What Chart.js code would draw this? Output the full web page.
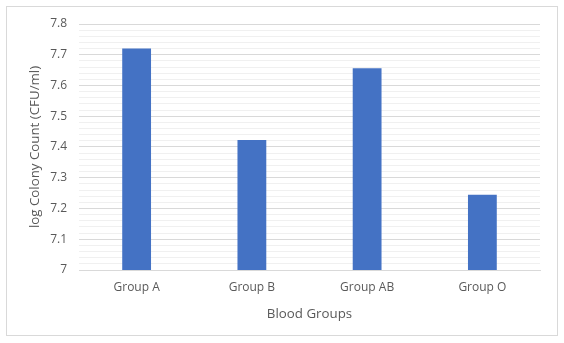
<!DOCTYPE html>
<html>
<head>
<meta charset="utf-8">
<script src="https://cdn.jsdelivr.net/npm/chart.js@4.4.0/dist/chart.umd.min.js"></script>
<style>
  html, body { margin: 0; padding: 0; background: #fff; }
  #wrap { width: 564px; height: 343px; }
</style>
</head>
<body>
<div id="wrap"><canvas id="bloodChart" width="564" height="343"></canvas></div>
<script>
// log colony counts per blood group
const groups = ['Group A', 'Group B', 'Group AB', 'Group O'];
const logCounts = [7.72, 7.423, 7.656, 7.245];
const yMin = 7, yMax = 7.8, minorStep = 0.02;

// thin grey frame around the whole chart
const frame = {
    id: 'frame',
    beforeDraw(chart) {
        const ctx = chart.ctx;
        ctx.save();
        ctx.strokeStyle = '#d9d9d9';
        ctx.lineWidth = 1;
        ctx.strokeRect(6.5, 6.5, 551, 329);
        ctx.restore();
    }
};

const isMajor = v => Math.round(v * 100) % 10 === 0;

Chart.defaults.font.family = "'Open Sans', 'Noto Sans', sans-serif";
Chart.defaults.font.size = 12;
Chart.defaults.color = '#595959';

new Chart(document.getElementById('bloodChart'), {
    type: 'bar',
    data: {
        labels: groups,
        datasets: [{
            data: logCounts,
            backgroundColor: '#4472c4',
            categoryPercentage: 1,
            barPercentage: 0.25
        }]
    },
    options: {
        responsive: false,
        animation: false,
        layout: { padding: { top: 24, right: 24, left: 0, bottom: 0 } },
        plugins: { legend: { display: false }, tooltip: { enabled: false } },
        scales: {
            x: {
                grid: { display: false, drawTicks: false },
                border: { color: '#d9d9d9' },
                ticks: { padding: 10 },
                title: {
                    display: true, text: 'Blood Groups',
                    font: { size: 13.3 }, padding: { top: 4, bottom: 21 }
                },
                afterFit(scale) { scale.height = 73; }
            },
            y: {
                min: yMin,
                max: yMax,
                border: { display: false },
                grid: {
                    drawTicks: false,
                    color: c => isMajor(c.tick.value) ? '#d9d9d9' : '#f0f0f0'
                },
                ticks: {
                    stepSize: minorStep,
                    autoSkip: false,
                    padding: 12,
                    callback: v => isMajor(v) ? String(Math.round(v * 10) / 10) : ''
                },
                title: {
                    display: true, text: 'log Colony Count (CFU/ml)',
                    font: { size: 13.3 }, padding: { top: 27, bottom: 0 }
                },
                afterFit(scale) { scale.width = 79; }
            }
        }
    },
    plugins: [frame]
});
</script>
</body>
</html>
